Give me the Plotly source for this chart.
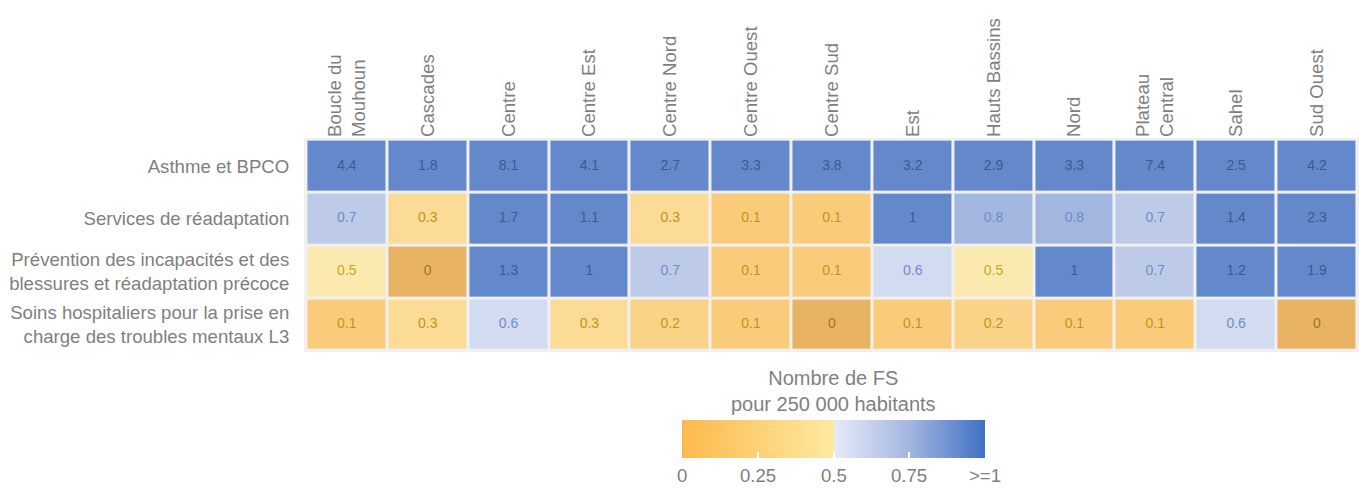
import plotly.graph_objects as go

regions = ["Boucle du<br>Mouhoun", "Cascades", "Centre", "Centre Est", "Centre Nord",
           "Centre Ouest", "Centre Sud", "Est", "Hauts Bassins", "Nord",
           "Plateau<br>Central", "Sahel", "Sud Ouest"]
services = ["Asthme et BPCO",
            "Services de réadaptation",
            "Prévention des incapacités et des<br>blessures et réadaptation précoce",
            "Soins hospitaliers pour la prise en<br>charge des troubles mentaux L3"]

asthme_bpco = [4.4, 1.8, 8.1, 4.1, 2.7, 3.3, 3.8, 3.2, 2.9, 3.3, 7.4, 2.5, 4.2]
readaptation = [0.7, 0.3, 1.7, 1.1, 0.3, 0.1, 0.1, 1, 0.8, 0.8, 0.7, 1.4, 2.3]
prevention = [0.5, 0, 1.3, 1, 0.7, 0.1, 0.1, 0.6, 0.5, 1, 0.7, 1.2, 1.9]
soins_mentaux = [0.1, 0.3, 0.6, 0.3, 0.2, 0.1, 0, 0.1, 0.2, 0.1, 0.1, 0.6, 0]

tick_vals = [0, 0.25, 0.5, 0.75, 1]
tick_text = ["0", "0.25", "0.5", "0.75", ">=1"]
legend_title = "Nombre de FS<br>pour 250 000 habitants"

values = [asthme_bpco, readaptation, prevention, soins_mentaux]
zc = [[min(v, 1) for v in row] for row in values]

GRAY = "#7F7F7F"
FONT = "Liberation Sans, Arial, sans-serif"
AX = 18.6

# plot area in pixels (for placing the legend)
L, R, T, B = 304, 0, 138, 136
W, H = 1359, 488
PW, PH = W - L - R, H - T - B
CB_LEFT, CB_LEN, CB_MID_Y = 682, 303, 442


def px_x(x):
    return (x - L) / PW


def px_y(y):
    return (H - B - y) / PH


colorscale = [
    [0.0, "#E6A641"], [0.002, "#FDB94D"], [0.5, "#FEE9A0"],
    [0.5005, "#E6EBFA"], [0.75, "#A4B6E1"], [1.0, "#4070C4"],
]


def text_color(v):
    if v >= 1:
        return "#3D5A8F"
    if v > 0.5:
        return "#6F8DCB"
    if v == 0:
        return "#A07818"
    if v >= 0.5:
        return "#C9A81E"
    return "#C0961A"


fig = go.Figure()
fig.add_trace(go.Heatmap(
    x=regions, y=services, z=zc, zmin=0, zmax=1,
    colorscale=colorscale, opacity=0.8, xgap=3, ygap=3,
    hoverinfo="skip",
    colorbar=dict(
        orientation="h", lenmode="pixels", len=CB_LEN, thicknessmode="pixels",
        thickness=38, xref="paper", yref="paper",
        x=px_x(CB_LEFT + CB_LEN / 2), xanchor="center",
        y=px_y(CB_MID_Y), yanchor="middle",
        tickvals=tick_vals, ticks="inside", ticklen=6, showticklabels=False,
        tickcolor="white", tickwidth=2,
        outlinewidth=0, xpad=0, ypad=0,
    ),
))

tx, ty, tt, tcol = [], [], [], []
for s, row in zip(services, values):
    for r, v in zip(regions, row):
        tx.append(r)
        ty.append(s)
        tt.append(f"{v:g}")
        tcol.append(text_color(v))

fig.add_trace(go.Scatter(
    x=tx, y=ty, text=tt, mode="text", hoverinfo="skip", showlegend=False,
    textfont=dict(size=14, color=tcol, family=FONT),
))

fig.add_annotation(
    text=legend_title, xref="paper", yref="paper",
    x=px_x(CB_LEFT + CB_LEN / 2), y=px_y(391), xanchor="center", yanchor="middle",
    showarrow=False, font=dict(size=20, color=GRAY, family=FONT),
)
for tv, tl in zip(tick_vals, tick_text):
    fig.add_annotation(
        text=tl, xref="paper", yref="paper",
        x=px_x(CB_LEFT + tv * CB_LEN), y=px_y(476), xanchor="center",
        yanchor="middle", showarrow=False,
        font=dict(size=AX, color=GRAY, family=FONT),
    )

fig.update_layout(
    width=W, height=H,
    margin=dict(l=L, r=R, t=T, b=B),
    paper_bgcolor="white", plot_bgcolor="#F0F0F0",
    font=dict(family=FONT, color=GRAY),
    showlegend=False,
    xaxis=dict(side="top", tickangle=-90, showgrid=False, zeroline=False,
               ticks="", range=[-0.53, 12.52], categoryorder="array",
               categoryarray=regions, tickfont=dict(size=AX, color=GRAY)),
    yaxis=dict(showgrid=False, zeroline=False, range=[3.52, -0.53],
               categoryorder="array", categoryarray=services,
               ticks="outside", ticklen=10, tickcolor="rgba(0,0,0,0)",
               tickfont=dict(size=AX, color=GRAY)),
)

fig.write_html("out.html", config={"displayModeBar": False},
               post_script="document.body.style.margin='0';")
